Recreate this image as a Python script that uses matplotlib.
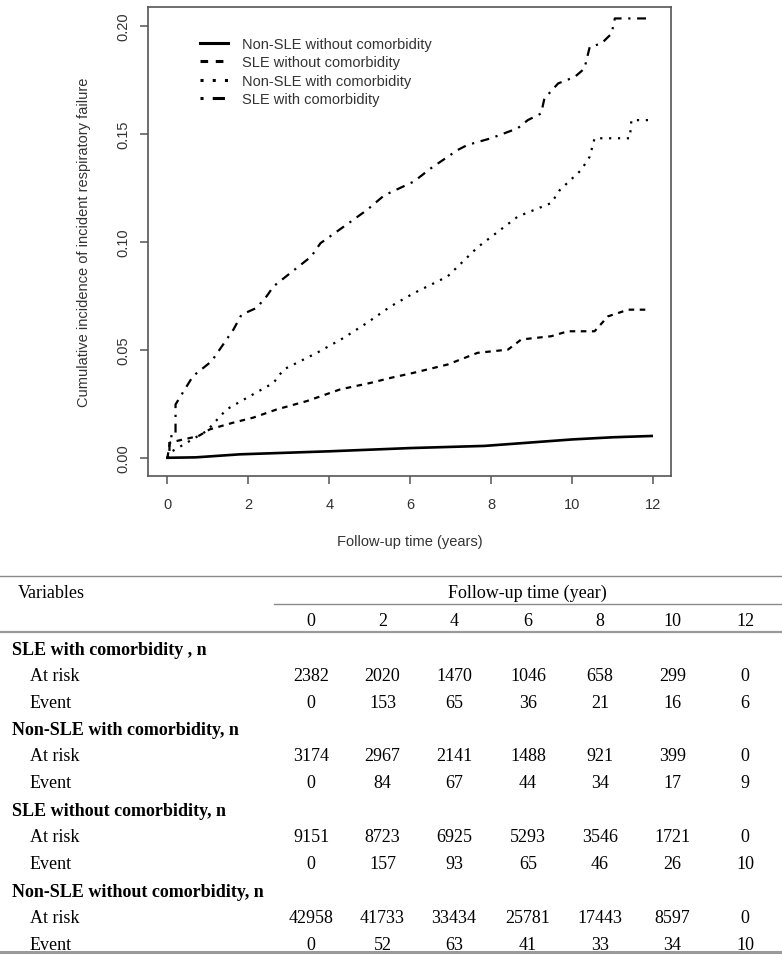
import matplotlib.pyplot as plt
from matplotlib.lines import Line2D

# ---- curve data ----
t_sle_com = [0, 0.05, 0.05, 0.2, 0.2, 0.63, 1.09, 1.63, 1.83, 2.2, 2.45, 2.62, 3.55, 3.78,
             4.35, 4.93, 5.35, 6.09, 6.5, 7.17, 7.41, 7.99, 8.65, 8.9, 9.23, 9.31, 9.65,
             10.06, 10.3, 10.43, 10.72, 10.97, 11.05, 11.95]
v_sle_com = [0, 0, 0.010, 0.010, 0.0247, 0.0378, 0.0447, 0.0594, 0.0663, 0.0694, 0.0748, 0.0794,
             0.0932, 0.0994, 0.107, 0.1148, 0.1215, 0.128, 0.134, 0.1426, 0.1449, 0.148, 0.1526,
             0.1564, 0.1595, 0.1664, 0.1734, 0.1764, 0.1803, 0.1903, 0.1919, 0.1965, 0.2035,
             0.2035]

t_non_com = [0, 0.06, 0.97, 1.46, 2.04, 2.62, 2.87, 3.69, 4.35, 4.93, 5.51, 6.09, 6.92, 7.66,
             8.65, 9.48, 9.69, 10.22, 10.43, 10.55, 11.42, 11.46, 11.92]
v_non_com = [0, 0.0024, 0.0124, 0.0224, 0.0286, 0.0347, 0.0409, 0.0486, 0.0555, 0.0625, 0.0701,
             0.0763, 0.084, 0.0975, 0.1117, 0.118, 0.124, 0.1333, 0.1395, 0.148, 0.148, 0.1564,
             0.1564]

t_sle_nocom = [0, 0.06, 0.39, 0.76, 1.05, 1.63, 2.12, 2.7, 3.45, 4.27, 5.02, 5.51, 6.09, 6.92,
               7.66, 8.41, 8.74, 9.48, 9.89, 10.55, 10.88, 11.38, 11.92]
v_sle_nocom = [0, 0.007, 0.0085, 0.010, 0.0132, 0.0163, 0.0186, 0.0224, 0.0263, 0.0317, 0.0347,
               0.037, 0.0394, 0.0432, 0.0486, 0.0501, 0.0548, 0.0563, 0.0586, 0.0586, 0.0655,
               0.0686, 0.0686]

t_non_nocom = [0, 0.7, 1.79, 4.0, 6.0, 7.83, 10.0, 11.0, 11.96]
v_non_nocom = [0, 0.0002, 0.0016, 0.003, 0.0045, 0.0055, 0.0085, 0.0095, 0.0101]

# ---- at-risk table ----
years = [0, 2, 4, 6, 8, 10, 12]
groups = ["SLE with comorbidity , n", "Non-SLE with comorbidity, n",
          "SLE without comorbidity, n", "Non-SLE without comorbidity, n"]
at_risk = [[2382, 2020, 1470, 1046, 658, 299, 0],
           [3174, 2967, 2141, 1488, 921, 399, 0],
           [9151, 8723, 6925, 5293, 3546, 1721, 0],
           [42958, 41733, 33434, 25781, 17443, 8597, 0]]
events = [[0, 153, 65, 36, 21, 16, 6],
          [0, 84, 67, 44, 34, 17, 9],
          [0, 157, 93, 65, 46, 26, 10],
          [0, 52, 63, 41, 33, 34, 10]]

W, H = 782, 962
fig = plt.figure(figsize=(W / 100, H / 100), dpi=100)
plt.rcParams['font.family'] = ['Liberation Sans', 'DejaVu Sans']

def fx(px):
    return px / W

def fy(py):
    return 1 - py / H

ax = fig.add_axes([fx(148), fy(476.7), fx(670.7) - fx(148), fy(8) - fy(476.7)])
lw = 1.6
ax.plot(t_non_nocom, v_non_nocom, color='black', lw=lw + 0.3, label="Non-SLE without comorbidity")
ax.plot(t_sle_nocom, v_sle_nocom, color='black', lw=lw, dashes=(2.5, 2.5),
        label="SLE without comorbidity")
ax.plot(t_non_com, v_non_com, color='black', lw=lw, dashes=(1, 3),
        label="Non-SLE with comorbidity")
ax.plot(t_sle_com, v_sle_com, color='black', lw=lw, dashes=(1, 3, 4, 3),
        label="SLE with comorbidity")

ax.set_xlim(-0.48, 12.43)
ax.set_ylim(-0.0083, 0.2088)
ax.set_xticks(years)
ax.set_yticks([0, 0.05, 0.10, 0.15, 0.20])
ax.set_yticklabels(["0.00", "0.05", "0.10", "0.15", "0.20"], rotation=90, va='center')
for s in ax.spines.values():
    s.set_color('#555555')
    s.set_linewidth(1.2)
ax.tick_params(axis='both', length=6, width=1.1, color='#555555', labelsize=10.5,
               labelcolor='#333333')
ax.tick_params(axis='x', pad=9)
ax.tick_params(axis='y', pad=7)

ax.text(0.5, -0.139, "Follow-up time (years)", transform=ax.transAxes, ha='center',
        va='center', fontsize=10.5, color='#333333')
ax.text(-0.1215, 0.5, "Cumulative incidence of incident respiratory failure",
        transform=ax.transAxes, ha='center', va='center', rotation=90, fontsize=10.5,
        color='#333333')

leg = ax.legend(loc='upper left', bbox_to_anchor=(fx(200), fy(38)),
                bbox_transform=fig.transFigure, frameon=False, fontsize=10.5,
                handlelength=1.9, handletextpad=0.95, labelspacing=0.3,
                borderpad=0, borderaxespad=0)
for txt in leg.get_texts():
    txt.set_color('#333333')
for h in leg.get_lines():
    h.set_linewidth(2.2)

# ---- table ----
serif = ['Liberation Serif', 'DejaVu Serif']
tfs = 13
col_x = [311, 382.5, 454, 528, 600, 672.5, 745]

def hline(y, x0, x1, lw_, col):
    fig.add_artist(Line2D([fx(x0), fx(x1)], [fy(y), fy(y)], color=col, lw=lw_))

hline(577, 0, 782, 1.0, '#8a8a8a')
hline(605, 274, 782, 1.0, '#8a8a8a')
hline(633, 0, 782, 1.6, '#9a9a9a')
hline(953, 0, 782, 2.2, '#9a9a9a')

fig.text(fx(18), fy(593), "Variables", family=serif, fontsize=tfs, va='center')
fig.text(fx(527), fy(593), "Follow-up time (year)", family=serif, fontsize=tfs,
         ha='center', va='center')
for x, yr in zip(col_x, years):
    fig.text(fx(x), fy(621), str(yr), family=serif, fontsize=tfs, ha='center', va='center')

row_y = [651, 731, 812, 893]
for g, y0, risk, ev in zip(groups, row_y, at_risk, events):
    fig.text(fx(12), fy(y0), g, family=serif, fontsize=tfs, weight='bold', va='center')
    y1 = y0 + 25.5
    y2 = y0 + 52.5
    fig.text(fx(30), fy(y1), "At risk", family=serif, fontsize=tfs, va='center')
    fig.text(fx(30), fy(y2), "Event", family=serif, fontsize=tfs, va='center')
    for x, r, e in zip(col_x, risk, ev):
        fig.text(fx(x), fy(y1), str(r), family=serif, fontsize=tfs, ha='center', va='center')
        fig.text(fx(x), fy(y2), str(e), family=serif, fontsize=tfs, ha='center', va='center')

fig.savefig("out.png", dpi=100)
